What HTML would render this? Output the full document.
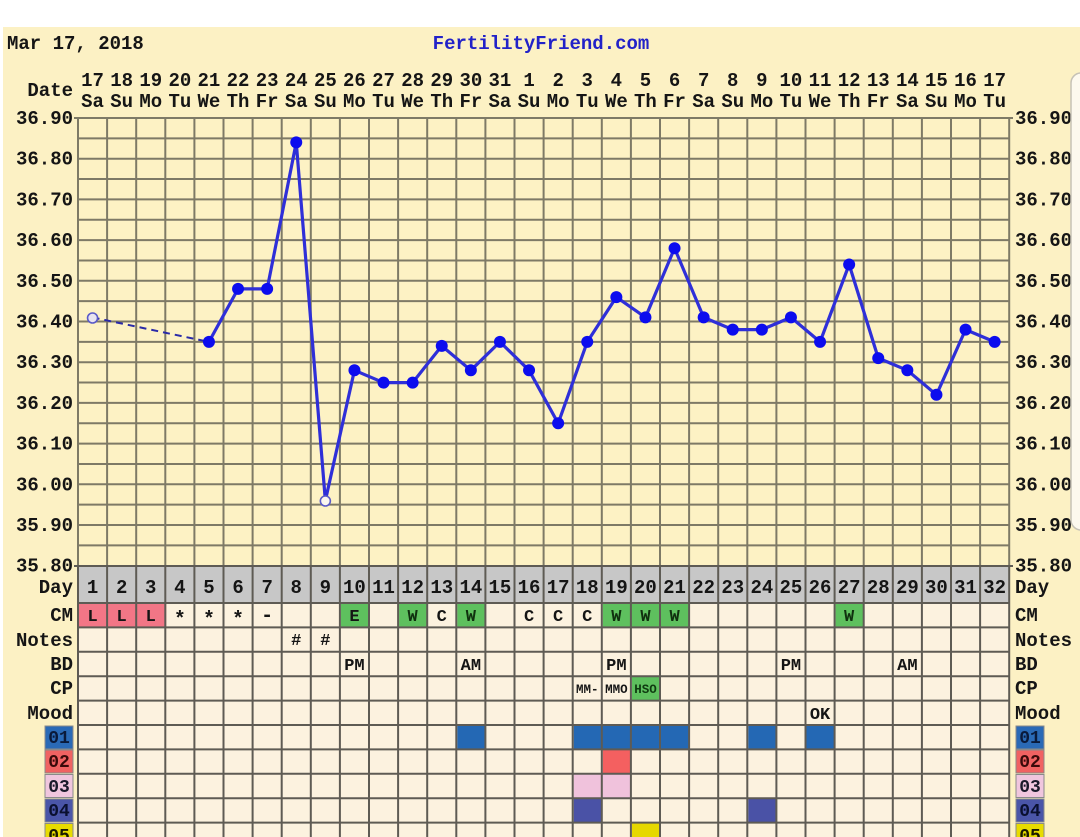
<!DOCTYPE html>
<html><head><meta charset="utf-8">
<style>
html,body{margin:0;padding:0;background:#fff;}
svg{display:block;}
text{font-family:"Liberation Mono",monospace;font-weight:bold;fill:#151515;}
</style></head><body>
<svg width="1080" height="837" viewBox="0 0 1080 837" xmlns="http://www.w3.org/2000/svg">
<rect x="0" y="0" width="1080" height="837" fill="#ffffff"/>
<rect x="3" y="27" width="1077" height="810" fill="#fcf1c4"/>

<!-- header -->
<text x="7" y="49" font-size="19">Mar 17, 2018</text>
<text x="541" y="49" font-size="19" text-anchor="middle" style="fill:#2222c8">FertilityFriend.com</text>
<text x="73" y="96" font-size="19" text-anchor="end">Date</text>

<g font-size="19" text-anchor="middle">
<text x="92.55" y="86">17</text><text x="121.65" y="86">18</text><text x="150.75" y="86">19</text><text x="179.85" y="86">20</text><text x="208.95" y="86">21</text><text x="238.05" y="86">22</text><text x="267.15" y="86">23</text><text x="296.25" y="86">24</text><text x="325.35" y="86">25</text><text x="354.45" y="86">26</text><text x="383.55" y="86">27</text><text x="412.65" y="86">28</text><text x="441.75" y="86">29</text><text x="470.85" y="86">30</text><text x="499.95" y="86">31</text><text x="529.05" y="86">1</text><text x="558.15" y="86">2</text><text x="587.25" y="86">3</text><text x="616.35" y="86">4</text><text x="645.45" y="86">5</text><text x="674.55" y="86">6</text><text x="703.65" y="86">7</text><text x="732.75" y="86">8</text><text x="761.85" y="86">9</text><text x="790.95" y="86">10</text><text x="820.05" y="86">11</text><text x="849.15" y="86">12</text><text x="878.25" y="86">13</text><text x="907.35" y="86">14</text><text x="936.45" y="86">15</text><text x="965.55" y="86">16</text><text x="994.65" y="86">17</text>
<text x="92.55" y="107">Sa</text><text x="121.65" y="107">Su</text><text x="150.75" y="107">Mo</text><text x="179.85" y="107">Tu</text><text x="208.95" y="107">We</text><text x="238.05" y="107">Th</text><text x="267.15" y="107">Fr</text><text x="296.25" y="107">Sa</text><text x="325.35" y="107">Su</text><text x="354.45" y="107">Mo</text><text x="383.55" y="107">Tu</text><text x="412.65" y="107">We</text><text x="441.75" y="107">Th</text><text x="470.85" y="107">Fr</text><text x="499.95" y="107">Sa</text><text x="529.05" y="107">Su</text><text x="558.15" y="107">Mo</text><text x="587.25" y="107">Tu</text><text x="616.35" y="107">We</text><text x="645.45" y="107">Th</text><text x="674.55" y="107">Fr</text><text x="703.65" y="107">Sa</text><text x="732.75" y="107">Su</text><text x="761.85" y="107">Mo</text><text x="790.95" y="107">Tu</text><text x="820.05" y="107">We</text><text x="849.15" y="107">Th</text><text x="878.25" y="107">Fr</text><text x="907.35" y="107">Sa</text><text x="936.45" y="107">Su</text><text x="965.55" y="107">Mo</text><text x="994.65" y="107">Tu</text>
</g>

<!-- chart grid -->
<rect x="78" y="118" width="931.2" height="448" fill="#fdf2c4"/>
<path stroke="#7e7a66" stroke-width="2" fill="none" d="M78 118V566M107.1 118V566M136.2 118V566M165.3 118V566M194.4 118V566M223.5 118V566M252.6 118V566M281.7 118V566M310.8 118V566M339.9 118V566M369 118V566M398.1 118V566M427.2 118V566M456.3 118V566M485.4 118V566M514.5 118V566M543.6 118V566M572.7 118V566M601.8 118V566M630.9 118V566M660 118V566M689.1 118V566M718.2 118V566M747.3 118V566M776.4 118V566M805.5 118V566M834.6 118V566M863.7 118V566M892.8 118V566M921.9 118V566M951 118V566M980.1 118V566M1009.2 118V566
M74 118H1013M78 138.35H1009.2M78 158.7H1009.2M78 179.05H1009.2M78 199.4H1009.2M78 219.75H1009.2M78 240.1H1009.2M78 260.45H1009.2M78 280.8H1009.2M78 301.15H1009.2M78 321.5H1009.2M78 341.85H1009.2M78 362.2H1009.2M78 382.55H1009.2M78 402.9H1009.2M78 423.25H1009.2M78 443.6H1009.2M78 463.95H1009.2M78 484.3H1009.2M78 504.65H1009.2M78 525H1009.2M78 545.35H1009.2"/>

<!-- y labels -->
<g font-size="19">
<g text-anchor="end">
<text x="73" y="124">36.90</text><text x="73" y="164.7">36.80</text><text x="73" y="205.4">36.70</text><text x="73" y="246.1">36.60</text><text x="73" y="286.8">36.50</text><text x="73" y="327.5">36.40</text><text x="73" y="368.2">36.30</text><text x="73" y="408.9">36.20</text><text x="73" y="449.6">36.10</text><text x="73" y="490.3">36.00</text><text x="73" y="531">35.90</text><text x="73" y="571.7">35.80</text>
</g>
<text x="1015" y="124">36.90</text><text x="1015" y="164.7">36.80</text><text x="1015" y="205.4">36.70</text><text x="1015" y="246.1">36.60</text><text x="1015" y="286.8">36.50</text><text x="1015" y="327.5">36.40</text><text x="1015" y="368.2">36.30</text><text x="1015" y="408.9">36.20</text><text x="1015" y="449.6">36.10</text><text x="1015" y="490.3">36.00</text><text x="1015" y="531">35.90</text><text x="1015" y="571.7">35.80</text>
</g>

<!-- series -->
<line x1="92.55" y1="317.4" x2="208.95" y2="341.9" stroke="#2a2aa8" stroke-width="2" stroke-dasharray="7,5"/>
<polyline fill="none" stroke="#2f2fd8" stroke-width="3.2" stroke-linejoin="round" points="208.95,341.9 238.05,288.9 267.15,288.9 296.25,142.4 325.35,500.6 354.45,370.3 383.55,382.6 412.65,382.6 441.75,345.9 470.85,370.3 499.95,341.9 529.05,370.3 558.15,423.3 587.25,341.9 616.35,297.1 645.45,317.4 674.55,248.2 703.65,317.4 732.75,329.6 761.85,329.6 790.95,317.4 820.05,341.9 849.15,264.5 878.25,358.1 907.35,370.3 936.45,394.8 965.55,329.6 994.65,341.9"/>
<g fill="#0c0cee">
<circle cx="208.95" cy="341.9" r="6"/><circle cx="238.05" cy="288.9" r="6"/><circle cx="267.15" cy="288.9" r="6"/><circle cx="296.25" cy="142.4" r="6"/><circle cx="354.45" cy="370.3" r="6"/><circle cx="383.55" cy="382.6" r="6"/><circle cx="412.65" cy="382.6" r="6"/><circle cx="441.75" cy="345.9" r="6"/><circle cx="470.85" cy="370.3" r="6"/><circle cx="499.95" cy="341.9" r="6"/><circle cx="529.05" cy="370.3" r="6"/><circle cx="558.15" cy="423.3" r="6"/><circle cx="587.25" cy="341.9" r="6"/><circle cx="616.35" cy="297.1" r="6"/><circle cx="645.45" cy="317.4" r="6"/><circle cx="674.55" cy="248.2" r="6"/><circle cx="703.65" cy="317.4" r="6"/><circle cx="732.75" cy="329.6" r="6"/><circle cx="761.85" cy="329.6" r="6"/><circle cx="790.95" cy="317.4" r="6"/><circle cx="820.05" cy="341.9" r="6"/><circle cx="849.15" cy="264.5" r="6"/><circle cx="878.25" cy="358.1" r="6"/><circle cx="907.35" cy="370.3" r="6"/><circle cx="936.45" cy="394.8" r="6"/><circle cx="965.55" cy="329.6" r="6"/><circle cx="994.65" cy="341.9" r="6"/>
</g>
<circle cx="92.55" cy="318" r="5" fill="#e8e4f0" stroke="#5a5ac8" stroke-width="1.6"/>
<circle cx="325.35" cy="501" r="5" fill="#fbf6ee" stroke="#5a5ac8" stroke-width="1.6"/>

<!-- table -->
<rect x="78" y="566" width="931.2" height="37" fill="#c7c7c7"/>
<rect x="78" y="603" width="931.2" height="234" fill="#fcf2df"/>

<!-- colored cells -->
<g>
<rect x="79" y="604" width="87.3" height="23" fill="#f27686"/>
<rect x="340.9" y="604" width="28" height="23" fill="#5ec05e"/>
<rect x="399.1" y="604" width="28" height="23" fill="#5ec05e"/>
<rect x="457.3" y="604" width="28" height="23" fill="#5ec05e"/>
<rect x="602.8" y="604" width="86.3" height="23" fill="#5ec05e"/>
<rect x="835.6" y="604" width="28" height="23" fill="#5ec05e"/>
<rect x="631.9" y="677" width="28" height="23" fill="#5ec05e"/>
<rect x="457.3" y="726" width="28" height="23" fill="#2468b4"/>
<rect x="573.7" y="726" width="115.4" height="23" fill="#2468b4"/>
<rect x="748.3" y="726" width="28" height="23" fill="#2468b4"/>
<rect x="806.5" y="726" width="28" height="23" fill="#2468b4"/>
<rect x="602.8" y="750" width="28" height="23" fill="#f46060"/>
<rect x="573.7" y="774.5" width="57.2" height="23" fill="#f0c2dc"/>
<rect x="573.7" y="799" width="28" height="23" fill="#4a52a6"/>
<rect x="748.3" y="799" width="28" height="23" fill="#4a52a6"/>
<rect x="631.9" y="823.5" width="28" height="14" fill="#e6d800"/>
</g>

<path stroke="#5e5b54" stroke-width="2" fill="none" d="M78 566V837M107.1 566V837M136.2 566V837M165.3 566V837M194.4 566V837M223.5 566V837M252.6 566V837M281.7 566V837M310.8 566V837M339.9 566V837M369 566V837M398.1 566V837M427.2 566V837M456.3 566V837M485.4 566V837M514.5 566V837M543.6 566V837M572.7 566V837M601.8 566V837M630.9 566V837M660 566V837M689.1 566V837M718.2 566V837M747.3 566V837M776.4 566V837M805.5 566V837M834.6 566V837M863.7 566V837M892.8 566V837M921.9 566V837M951 566V837M980.1 566V837M1009.2 566V837
M74 566H1013M78 603H1009.2M78 627.4H1009.2M78 651.8H1009.2M78 676.2H1009.2M78 700.6H1009.2M78 725H1009.2M78 749.4H1009.2M78 773.8H1009.2M78 798.2H1009.2M78 822.6H1009.2"/>

<!-- day numbers -->
<g font-size="19" text-anchor="middle">
<text x="92.55" y="593">1</text><text x="121.65" y="593">2</text><text x="150.75" y="593">3</text><text x="179.85" y="593">4</text><text x="208.95" y="593">5</text><text x="238.05" y="593">6</text><text x="267.15" y="593">7</text><text x="296.25" y="593">8</text><text x="325.35" y="593">9</text><text x="354.45" y="593">10</text><text x="383.55" y="593">11</text><text x="412.65" y="593">12</text><text x="441.75" y="593">13</text><text x="470.85" y="593">14</text><text x="499.95" y="593">15</text><text x="529.05" y="593">16</text><text x="558.15" y="593">17</text><text x="587.25" y="593">18</text><text x="616.35" y="593">19</text><text x="645.45" y="593">20</text><text x="674.55" y="593">21</text><text x="703.65" y="593">22</text><text x="732.75" y="593">23</text><text x="761.85" y="593">24</text><text x="790.95" y="593">25</text><text x="820.05" y="593">26</text><text x="849.15" y="593">27</text><text x="878.25" y="593">28</text><text x="907.35" y="593">29</text><text x="936.45" y="593">30</text><text x="965.55" y="593">31</text><text x="994.65" y="593">32</text>
</g>

<!-- cell text -->
<g font-size="17" text-anchor="middle">
<text x="92.55" y="621">L</text><text x="121.65" y="621">L</text><text x="150.75" y="621">L</text>
<text x="179.85" y="625" font-size="20">*</text><text x="208.95" y="625" font-size="20">*</text><text x="238.05" y="625" font-size="20">*</text><text x="267.15" y="621" font-size="20">-</text>
<text x="354.45" y="621">E</text><text x="412.65" y="621" style="fill:#10300f">W</text><text x="441.75" y="621">C</text><text x="470.85" y="621" style="fill:#10300f">W</text>
<text x="529.05" y="621">C</text><text x="558.15" y="621">C</text><text x="587.25" y="621">C</text>
<text x="616.35" y="621" style="fill:#10300f">W</text><text x="645.45" y="621" style="fill:#10300f">W</text><text x="674.55" y="621" style="fill:#10300f">W</text><text x="849.15" y="621" style="fill:#10300f">W</text>
<text x="296.25" y="645">#</text><text x="325.35" y="645">#</text>
<text x="354.45" y="670">PM</text><text x="470.85" y="670">AM</text><text x="616.35" y="670">PM</text><text x="790.95" y="670">PM</text><text x="907.35" y="670">AM</text>
<text x="820.05" y="719">OK</text>
</g>
<g font-size="12.5" text-anchor="middle">
<text x="587.25" y="693">MM-</text><text x="616.35" y="693">MMO</text><text x="645.45" y="693" style="fill:#0f3a10">HSO</text>
</g>

<!-- row labels -->
<g font-size="19">
<g text-anchor="end">
<text x="73" y="593">Day</text><text x="73" y="621">CM</text><text x="73" y="646">Notes</text><text x="73" y="670">BD</text><text x="73" y="694">CP</text><text x="73" y="719">Mood</text>
</g>
<text x="1015" y="593">Day</text><text x="1015" y="621">CM</text><text x="1015" y="646">Notes</text><text x="1015" y="670">BD</text><text x="1015" y="694">CP</text><text x="1015" y="719">Mood</text>
</g>

<!-- legend boxes -->
<g stroke="#8a8a8a" stroke-width="1">
<rect x="45" y="726" width="28" height="23" fill="#2a6ab6"/>
<rect x="45" y="750" width="28" height="23" fill="#f06262"/>
<rect x="45" y="774.5" width="28" height="23" fill="#f0c6de"/>
<rect x="45" y="799" width="28" height="23" fill="#4a55a8"/>
<rect x="45" y="823.5" width="28" height="20" fill="#e8dc00"/>
<rect x="1016" y="726" width="28" height="23" fill="#2a6ab6"/>
<rect x="1016" y="750" width="28" height="23" fill="#f06262"/>
<rect x="1016" y="774.5" width="28" height="23" fill="#f0c6de"/>
<rect x="1016" y="799" width="28" height="23" fill="#4a55a8"/>
<rect x="1016" y="823.5" width="28" height="20" fill="#e8dc00"/>
</g>
<g font-size="18" text-anchor="middle">
<text x="59" y="743" style="fill:#0a1a3a">01</text><text x="59" y="767" style="fill:#3a0a0a">02</text><text x="59" y="792" style="fill:#1a1a2a">03</text><text x="59" y="816" style="fill:#0a1030">04</text><text x="59" y="841" style="fill:#1a1a00">05</text>
<text x="1030" y="743" style="fill:#0a1a3a">01</text><text x="1030" y="767" style="fill:#3a0a0a">02</text><text x="1030" y="792" style="fill:#1a1a2a">03</text><text x="1030" y="816" style="fill:#0a1030">04</text><text x="1030" y="841" style="fill:#1a1a00">05</text>
</g>

<!-- right overlay -->
<rect x="1071" y="73" width="30" height="457" rx="10" ry="10" fill="#fdf9ee" stroke="#c6c2b6" stroke-width="1.5"/>
</svg>
</body></html>
